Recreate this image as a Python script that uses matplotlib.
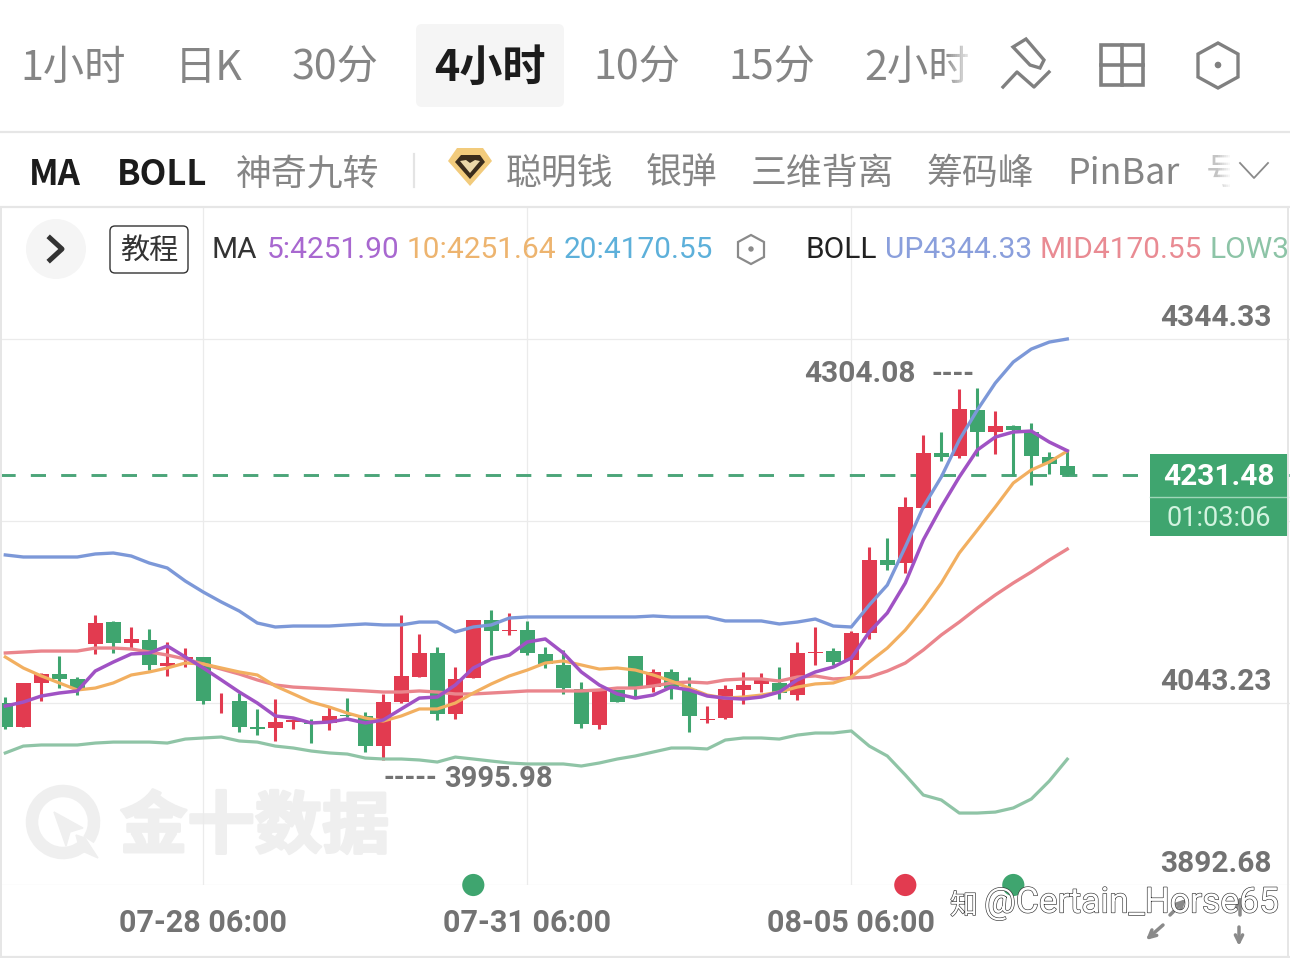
import matplotlib
matplotlib.use("Agg")
import matplotlib.pyplot as plt
from matplotlib.patches import Rectangle, FancyBboxPatch, Polygon, Circle, Arc
import matplotlib.patheffects as pe

plt.rcParams['font.family'] = ['Noto Sans CJK SC', 'DejaVu Sans']

# 4h candles, price values
opens = [4043.2, 4023.4, 4059.8, 4067.2, 4063.1, 4092.0, 4110.2, 4092.9, 4095.3, 4073.8,
         4079.6, 4081.3, 4045.0, 4044.9, 4023.4, 4022.5, 4027.5, 4026.7, 4026.7, 4033.3,
         4032.5, 4007.6, 4044.0, 4064.7, 4084.6, 4034.1, 4063.9, 4111.9, 4102.8, 4103.6,
         4083.8, 4074.6, 4054.8, 4025.0, 4054.0, 4082.1, 4056.4, 4068.9, 4054.8, 4029.2,
         4030.9, 4054.0, 4059.0, 4059.8, 4049.8, 4084.6, 4086.2, 4078.8, 4101.1, 4161.5,
         4159.0, 4204.5, 4250.0, 4247.5, 4285.6, 4267.4, 4272.4, 4267.4, 4246.7, 4239.3]
highs = [4048.2, 4059.8, 4068.0, 4082.1, 4064.7, 4116.1, 4111.1, 4106.1, 4104.4, 4093.7,
         4088.7, 4081.3, 4051.5, 4051.5, 4038.3, 4046.5, 4030.0, 4030.0, 4039.9, 4047.3,
         4035.8, 4050.6, 4116.1, 4100.3, 4089.5, 4073.0, 4111.9, 4120.2, 4117.7, 4111.1,
         4089.5, 4087.1, 4060.6, 4054.8, 4054.0, 4082.1, 4071.3, 4071.3, 4064.7, 4040.7,
         4058.1, 4068.9, 4068.0, 4073.0, 4093.7, 4106.1, 4088.7, 4102.8, 4172.3, 4179.7,
         4213.6, 4264.9, 4267.4, 4303.0, 4304.08, 4284.8, 4273.2, 4274.9, 4250.8, 4252.5]
lows = [4021.7, 4023.4, 4044.9, 4055.6, 4049.8, 4083.8, 4084.6, 4088.7, 4070.5, 4065.6,
        4073.0, 4042.4, 4034.9, 4019.2, 4016.7, 4011.8, 4021.7, 4010.2, 4020.9, 4031.7,
        4002.7, 3995.98, 4043.2, 4064.7, 4029.2, 4030.0, 4063.9, 4082.9, 4099.5, 4082.9,
        4072.2, 4050.7, 4022.5, 4021.7, 4044.0, 4048.2, 4052.3, 4046.5, 4019.2, 4026.7,
        4030.0, 4042.4, 4052.3, 4046.5, 4045.7, 4074.6, 4074.6, 4064.7, 4096.2, 4153.2,
        4150.7, 4204.5, 4243.4, 4245.9, 4247.5, 4249.2, 4231.0, 4223.5, 4232.7, 4230.9]
closes = [4023.4, 4059.8, 4067.2, 4063.1, 4055.6, 4109.4, 4092.9, 4096.2, 4074.6, 4076.3,
          4081.3, 4044.9, 4045.0, 4023.4, 4021.7, 4027.5, 4029.2, 4025.9, 4032.5, 4032.5,
          4007.6, 4044.0, 4065.6, 4084.6, 4034.1, 4063.1, 4111.9, 4102.8, 4103.6, 4084.6,
          4075.5, 4055.6, 4025.9, 4054.0, 4044.0, 4056.4, 4068.9, 4055.6, 4032.5, 4030.0,
          4054.8, 4058.1, 4062.3, 4051.5, 4084.6, 4085.4, 4077.1, 4101.1, 4161.5, 4157.4,
          4205.4, 4250.0, 4246.7, 4286.4, 4267.4, 4272.4, 4269.1, 4247.5, 4240.9, 4231.48]

ma5 = [4040.7, 4044.0, 4049.0, 4051.5, 4053.2, 4069.7, 4077.1, 4083.8, 4084.6, 4090.4,
       4081.3, 4072.2, 4062.3, 4052.3, 4043.2, 4032.5, 4030.8, 4026.7, 4027.5, 4030.0,
       4026.7, 4029.2, 4038.3, 4047.3, 4048.2, 4058.1, 4072.2, 4079.6, 4082.9, 4093.7,
       4096.2, 4084.6, 4068.9, 4058.1, 4050.7, 4047.3, 4049.8, 4056.4, 4054.0, 4049.0,
       4047.3, 4046.5, 4048.2, 4052.3, 4062.3, 4068.9, 4073.0, 4080.4, 4102.0, 4117.7,
       4142.5, 4178.1, 4205.4, 4230.2, 4252.5, 4263.2, 4267.4, 4268.2, 4259.1, 4251.90]
ma10 = [4081.3, 4072.2, 4065.6, 4059.8, 4054.0, 4055.6, 4059.8, 4066.4, 4068.9, 4072.2,
        4076.3, 4075.5, 4072.2, 4068.9, 4066.4, 4057.3, 4050.7, 4044.0, 4039.9, 4034.9,
        4030.8, 4028.3, 4032.5, 4038.3, 4038.3, 4043.2, 4051.5, 4059.0, 4065.6, 4070.5,
        4076.3, 4078.0, 4074.7, 4071.3, 4072.2, 4070.5, 4066.4, 4061.4, 4055.6, 4049.8,
        4047.3, 4048.2, 4049.8, 4052.3, 4056.4, 4059.0, 4059.8, 4064.7, 4077.1, 4088.7,
        4103.6, 4121.8, 4142.5, 4167.3, 4186.3, 4205.4, 4225.2, 4236.0, 4242.6, 4251.64]
boll_up = [4165.7, 4164.0, 4164.0, 4164.0, 4164.0, 4166.5, 4167.3, 4164.8, 4159.0, 4154.9,
           4144.1, 4135.0, 4126.8, 4119.3, 4109.4, 4106.1, 4106.9, 4106.9, 4106.9, 4107.8,
           4108.6, 4107.8, 4107.8, 4110.2, 4110.2, 4102.0, 4106.1, 4107.8, 4113.5, 4114.4,
           4114.4, 4114.4, 4114.4, 4114.4, 4114.4, 4114.4, 4115.2, 4114.4, 4114.4, 4114.4,
           4111.1, 4111.1, 4111.1, 4108.6, 4110.2, 4112.7, 4106.9, 4106.1, 4124.3, 4140.8,
           4172.3, 4205.4, 4230.2, 4260.8, 4285.6, 4307.9, 4325.3, 4336.0, 4341.8, 4344.33]
boll_mid = [4084.6, 4085.4, 4086.2, 4086.2, 4086.2, 4088.7, 4088.7, 4087.9, 4085.4, 4082.9,
            4079.6, 4075.5, 4071.3, 4067.2, 4062.3, 4058.1, 4056.4, 4055.6, 4054.8, 4054.0,
            4053.2, 4052.3, 4052.3, 4053.2, 4052.3, 4050.7, 4050.7, 4051.5, 4052.3, 4053.2,
            4053.2, 4053.2, 4053.2, 4054.0, 4055.6, 4055.6, 4057.3, 4059.8, 4060.6, 4059.8,
            4062.3, 4063.1, 4063.1, 4061.4, 4064.7, 4065.6, 4063.1, 4063.9, 4064.7, 4069.7,
            4076.3, 4087.1, 4099.5, 4110.2, 4121.8, 4132.6, 4142.5, 4151.6, 4161.5, 4170.55]
boll_low = [4001.9, 4007.6, 4008.5, 4008.5, 4008.5, 4010.1, 4010.9, 4010.9, 4010.9, 4010.1,
            4013.4, 4014.3, 4015.1, 4011.8, 4010.9, 4007.6, 4006.0, 4003.5, 4001.9, 4001.0,
            3997.7, 3996.9, 3996.9, 3996.1, 3994.4, 3998.5, 3996.9, 3995.2, 3993.6, 3992.8,
            3992.8, 3992.8, 3991.1, 3993.6, 3996.9, 3999.4, 4002.7, 4006.0, 4006.0, 4005.2,
            4012.6, 4014.3, 4014.3, 4013.4, 4016.7, 4018.4, 4018.4, 4020.1, 4007.6, 3999.4,
            3983.7, 3967.1, 3963.0, 3952.2, 3952.2, 3953.0, 3956.4, 3963.8, 3978.7, 3996.77]

price_ticks = [4344.33, 4193.78, 4043.23, 3892.68]
price_labels = ['4344.33', '', '4043.23', '3892.68']
date_pos = [11, 29, 47]
date_labels = ['07-28 06:00', '07-31 06:00', '08-05 06:00']
signal_pos = [26, 50, 56]
signal_kind = ['down', 'up', 'down']
high_pos, high_price = 54, 4304.08
low_pos, low_price = 21, 3995.98
last_price = 4231.48

tabs = ['1小时', '日K', '30分', '4小时', '10分', '15分', '2小时']
tab_x = [20, 175, 292, 434, 593, 728, 864]
tools = ['MA', 'BOLL', '神奇九转', '聪明钱', '银弹', '三维背离', '筹码峰', 'PinBar']
tool_x = [29, 117, 236, 506, 646, 751, 926, 1067]

RED = '#E23B50'
GREEN = '#3FA56F'
LABEL = ['Roboto', 'DejaVu Sans']
W, H = 1290, 958

fig = plt.figure(figsize=(12.9, 9.58), dpi=100, facecolor='white')

# pixel-space layers: background watermark, chart, interface on top
bg = fig.add_axes([0, 0, 1, 1], zorder=0)
ui = fig.add_axes([0, 0, 1, 1], zorder=5)
for a in (bg, ui):
    a.set_xlim(0, W)
    a.set_ylim(H, 0)
    a.axis('off')
ui.patch.set_alpha(0)

# watermark
bg.add_patch(Arc((63, 822), 62, 62, theta1=50, theta2=395, lw=9, color='#efefef'))
bg.add_patch(Polygon([(54, 812), (83, 828), (70, 832), (66, 846)], color='#efefef'))
bg.add_patch(Polygon([(76, 835), (85, 838), (98, 858), (80, 850)], color='#efefef'))
bg.text(120, 828, '金十数据', fontsize=48.5, fontweight='bold', color='#efefef', va='center',
        path_effects=[pe.withStroke(linewidth=2, foreground='#efefef')])

# chart
ax = fig.add_axes([0, (H - 885) / H, 1, (885 - 207) / H], zorder=2)
ax.patch.set_alpha(0)
px_price = (price_ticks[0] - price_ticks[3]) / 546
ax.set_ylim(price_ticks[3], price_ticks[3] + px_price * 678)
ax.set_xlim(-5.3 / 18, (W - 5.3) / 18)
ax.set_yticks(price_ticks)
ax.set_xticks(date_pos)
ax.set_xticklabels([])
ax.set_yticklabels([])
ax.tick_params(length=0)
ax.grid(True, color='#ebebeb', lw=0.9)
ax.set_axisbelow(True)
for s in ax.spines.values():
    s.set_visible(False)

x = list(range(len(opens)))
colors = [RED if c >= o else GREEN for o, c in zip(opens, closes)]
ax.vlines(x, lows, highs, colors=colors, lw=2.2, zorder=3)
ax.bar(x, [abs(c - o) for o, c in zip(opens, closes)],
       bottom=[min(o, c) for o, c in zip(opens, closes)],
       width=0.83, color=colors, linewidth=0, zorder=3)

ax.axhline(last_price, color='#4BA579', lw=2.1, dashes=(5.2, 5.2), zorder=2.5)

ax.plot(x, boll_low, color='#8FC4A6', lw=2.3, zorder=4)
ax.plot(x, boll_up, color='#7C98D8', lw=2.4, zorder=4)
ax.plot(x, boll_mid, color='#EA858C', lw=2.4, zorder=4)
ax.plot(x, ma10, color='#F2AF60', lw=2.3, zorder=4.2)
ax.plot(x, ma5, color='#A052C4', lw=2.5, zorder=4.4)

dot_colors = [RED if k == 'up' else GREEN for k in signal_kind]
ax.scatter(signal_pos, [price_ticks[3]] * 3, s=255, c=dot_colors, linewidths=0,
           clip_on=False, zorder=6)

# axis labels, offsets in points
for p, lab in zip(price_ticks, price_labels):
    ax.annotate(lab, xy=(1, p), xycoords=('axes fraction', 'data'), xytext=(-13, 15),
                textcoords='offset points', ha='right', va='center', fontsize=21.5,
                family=LABEL, fontweight='bold', color='#737373')
for d, lab in zip(date_pos, date_labels):
    ax.annotate(lab, xy=(d, price_ticks[3]), xytext=(0, -27.5), textcoords='offset points',
                ha='center', va='center', fontsize=22, family=LABEL, fontweight='bold',
                color='#737373', annotation_clip=False)

ax.annotate(f'{high_price:.2f}', xy=(high_pos, high_price), xytext=(-44.5, 9.5),
            textcoords='offset points', ha='right', va='center', fontsize=21.5,
            family=LABEL, fontweight='bold', color='#737373')
ax.annotate('----', xy=(high_pos, high_price), xytext=(-33, 9.5),
            textcoords='offset points', ha='left', va='center', fontsize=20,
            family=LABEL, fontweight='bold', color='#737373')
ax.annotate(f'{low_price:.2f}', xy=(low_pos, low_price), xytext=(44, -13.5),
            textcoords='offset points', ha='left', va='center', fontsize=21,
            family=LABEL, fontweight='bold', color='#737373')
ax.annotate('-----', xy=(low_pos, low_price), xytext=(0, -13.5),
            textcoords='offset points', ha='left', va='center', fontsize=20,
            family=LABEL, fontweight='bold', color='#737373')

# price box
ui.add_patch(Rectangle((1150, 454), 138, 82, color=GREEN, lw=0))
ui.plot([1150, 1288], [497, 497], color='#9fd6b8', lw=1)
ui.text(1219, 477, f'{last_price:.2f}', fontsize=21.5, family=LABEL, fontweight='bold',
        color='white', ha='center', va='center')
ui.text(1219, 518, '01:03:06', fontsize=19.5, family=LABEL, color='#d2f3df',
        ha='center', va='center')

# frame lines
ui.add_patch(Rectangle((0, 0), W, 207, color='white', lw=0, zorder=0.5))
ui.plot([0, W], [132, 132], color='#e6e6e6', lw=1.6)
ui.plot([0, W], [207, 207], color='#e6e6e6', lw=1.6)
ui.plot([0, W], [957, 957], color='#e6e6e6', lw=1.6)
ui.plot([1, 1], [207, 957], color='#e6e6e6', lw=1.4)
ui.plot([1288, 1288], [207, 957], color='#e6e6e6', lw=1.4)

# top tabs
ui.add_patch(FancyBboxPatch((420, 28), 140, 75, boxstyle='round,pad=4,rounding_size=6',
                            fc='#f5f5f5', ec='none'))
for t, tx in zip(tabs, tab_x):
    if t == '4小时':
        ui.text(tx, 68, t, fontsize=31, fontweight='bold', color='#1c1c1c', va='center')
    else:
        ui.text(tx, 68, t, fontsize=29.7, color='#858585', va='center')
for i in range(15):
    ui.add_patch(Rectangle((945 + i * 2, 35), 2.2, 60, color='white', alpha=min(1, (i + 1) / 15),
                           lw=0, zorder=3.5))

# indicator row
for t, tx in zip(tools, tool_x):
    if t in ('MA', 'BOLL'):
        ui.text(tx, 174, t, fontsize=25, fontweight='bold', color='#1c1c1c', va='center')
    else:
        ui.text(tx, 174, t, fontsize=25.8, color='#858585', va='center')
ui.text(1206, 174, '号', fontsize=26, color='#c4c4c4', va='center')
for i in range(7):
    ui.add_patch(Rectangle((1218 + i * 2, 150), 2.2, 42, color='white', alpha=(i + 1) / 7,
                           lw=0, zorder=3.5))
ui.add_patch(Rectangle((1232, 150), 8, 42, color='white', lw=0, zorder=3.5))
ui.plot([1240, 1254, 1268], [163, 178, 163], color='#8a8a8a', lw=1.3, zorder=4)
ui.plot([414, 414], [154, 187], color='#e4e4e4', lw=1.6)

# gem icon
ui.add_patch(Polygon([(448, 161), (457, 148), (483, 148), (492, 161), (470, 186)],
                     fc='#F2CB7C', ec='none'))
ui.add_patch(Polygon([(455, 162), (461, 155), (480, 155), (485, 162), (470, 179)],
                     fc='#3a2c1c', ec='none'))
ui.add_patch(Polygon([(460, 161), (466, 160), (470, 163), (475, 160), (480, 161), (470, 173)],
                     fc='#EBD7A8', ec='none'))

# toolbar icons
grey = '#808080'
ui.add_patch(Polygon([(1013, 47), (1026, 39), (1044, 60), (1040, 68), (1030, 65)],
                     fc='none', ec=grey, lw=2.4))
ui.plot([1003, 1017, 1034, 1049], [87, 72, 87, 72], color=grey, lw=2.4)
ui.add_patch(Rectangle((1101, 45), 42, 40, fc='none', ec=grey, lw=2.6))
ui.plot([1122, 1122], [45, 85], color=grey, lw=2.6)
ui.plot([1101, 1143], [65, 65], color=grey, lw=2.6)
ui.add_patch(Polygon([(1218, 43), (1238, 54), (1238, 77), (1218, 88), (1198, 77), (1198, 54)],
                     fc='none', ec=grey, lw=2.4))
ui.add_patch(Circle((1218, 65), 2.6, color=grey))

# legend row
ui.add_patch(Circle((56, 249), 30, color='#f5f5f5', lw=0))
ui.plot([50, 62, 50], [238, 249, 260], color='#333333', lw=3.6)
ui.add_patch(FancyBboxPatch((113, 229), 72, 41, boxstyle='round,pad=3,rounding_size=5',
                            fc='white', ec='#333333', lw=1))
ui.text(149, 251, '教程', fontsize=21, color='#333333', ha='center', va='center')

legend = [('MA', 212, '#333333'), ('5:4251.90', 267, '#A868D0'), ('10:4251.64', 407, '#EDB46F'),
          ('20:4170.55', 564, '#5DB0DA'), ('BOLL', 806, '#222222'), ('UP4344.33', 885, '#8A9FDC'),
          ('MID4170.55', 1040, '#E98B93'), ('LOW3', 1210, '#8DC4A7')]
for t, tx, c in legend:
    ui.text(tx, 250, t, fontsize=21.5, family=LABEL, color=c, va='center')
ui.add_patch(Polygon([(751, 235), (764, 242), (764, 257), (751, 264), (738, 257), (738, 242)],
                     fc='none', ec='#8a8a8a', lw=1.6))
ui.add_patch(Circle((751, 249), 2, color='#8a8a8a'))

# corner arrows under the site watermark
for tail, tip in [((1163, 925), (1146, 940)), ((1239, 927), (1239, 946)),
                  ((1170, 915), (1186, 899)), ((1240, 915), (1240, 896))]:
    ui.annotate('', xy=tip, xytext=tail, arrowprops=dict(arrowstyle='->', color='#8a8a8a', lw=2.5,
                                                        shrinkA=0, shrinkB=0, mutation_scale=13))

# site watermark, white letters with a thin dark outline
outline = [pe.withStroke(linewidth=0.9, foreground='#333333')]
ui.text(984, 903, '@Certain_Horse65', fontsize=25.5, family=LABEL,
        color='white', va='center', path_effects=outline)
ui.text(950, 906, '知', fontsize=20, color='white', va='center', path_effects=outline)

fig.savefig('out.png', dpi=100)
plt.close(fig)
